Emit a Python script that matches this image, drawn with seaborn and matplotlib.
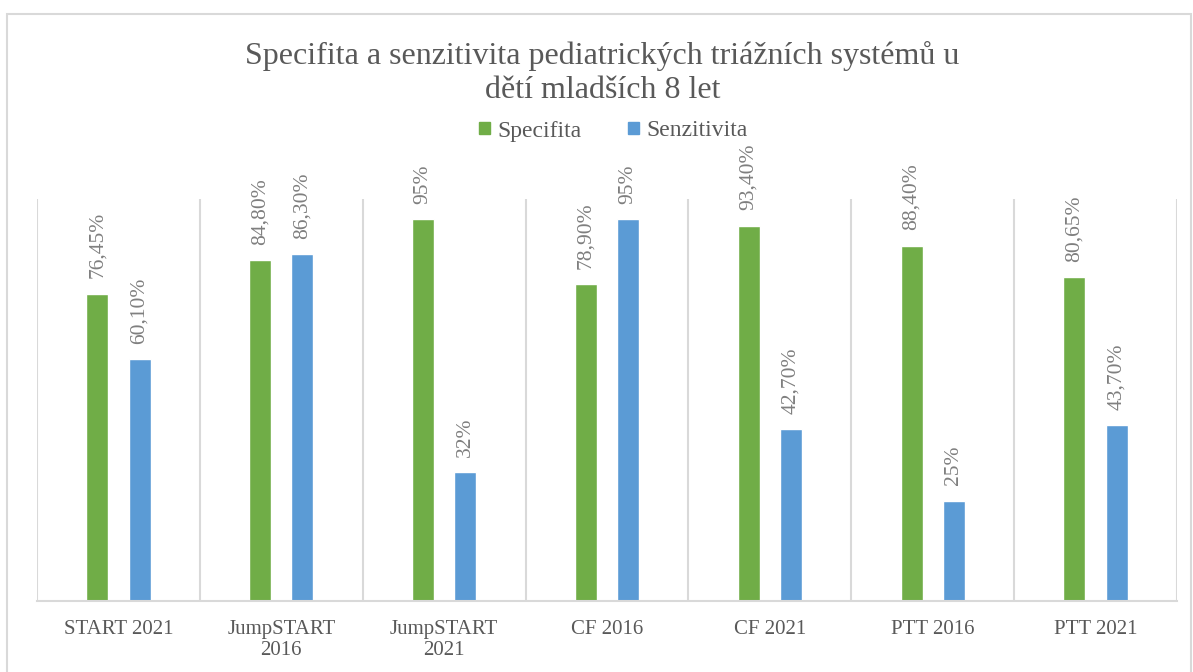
import numpy as np
import pandas as pd
import seaborn as sns
import matplotlib.pyplot as plt
import matplotlib.ticker as ticker
from matplotlib.patches import Rectangle

##### Data

systems = ['START 2021', 'JumpSTART\n2016', 'JumpSTART\n2021', 'CF 2016',
           'CF 2021', 'PTT 2016', 'PTT 2021']
specifita = [76.45, 84.80, 95, 78.90, 93.40, 88.40, 80.65]
senzitivita = [60.10, 86.30, 32, 95, 42.70, 25, 43.70]
spec_labels = ['76,45%', '84,80%', '95%', '78,90%', '93,40%', '88,40%', '80,65%']
senz_labels = ['60,10%', '86,30%', '32%', '95%', '42,70%', '25%', '43,70%']

df = pd.DataFrame({'System': systems * 2,
                   'Hodnota': specifita + senzitivita,
                   'Typ': ['Specifita'] * 7 + ['Senzitivita'] * 7})

##### Plot

sns.set_style('white')
plt.rcParams['font.family'] = ['Liberation Serif', 'DejaVu Serif']
txt = '#595959'

fig = plt.figure(figsize=(11.93, 6.72), dpi=100)
ax = fig.add_axes([37 / 1193, 1 - 601 / 672, 1140 / 1193, 402 / 672])

sns.barplot(data=df, x='System', y='Hodnota', hue='Typ', ax=ax,
            palette=['#70AD47', '#5B9BD5'], width=0.52, gap=0.48,
            saturation=1, legend=False)

ax.set_ylim(0, 100)
ax.set_xlim(-0.5, 6.5)
ax.set_xlabel('')
ax.set_ylabel('')
ax.set_yticks([])

# category separators
ax.xaxis.set_minor_locator(ticker.FixedLocator(np.arange(-0.5, 7, 1)))
ax.grid(which='minor', axis='x', color='#D9D9D9', linewidth=1.5)
ax.tick_params(axis='x', which='both', length=0, pad=14)
for lab in ax.get_xticklabels():
    lab.set_fontsize(15)
    lab.set_color(txt)
    lab.set_linespacing(1.1)

for s in ['top', 'right', 'left']:
    ax.spines[s].set_visible(False)
ax.spines['bottom'].set_color('#D9D9D9')
ax.spines['bottom'].set_linewidth(1.5)

# data labels
for cont, labs in zip(ax.containers, [spec_labels, senz_labels]):
    ax.bar_label(cont, labels=labs, rotation=90, padding=11,
                 fontsize=15.5, color='#7F7F7F')

# title
fig.text(0.505, 1 - 56 / 672, 'Specifita a senzitivita pediatrických triážních systémů u',
         ha='center', va='center', fontsize=23, color=txt)
fig.text(0.505, 1 - 91 / 672, 'dětí mladších 8 let',
         ha='center', va='center', fontsize=23, color=txt)

# legend
handles = [Rectangle((0, 0), 1, 1, color='#70AD47'),
           Rectangle((0, 0), 1, 1, color='#5B9BD5')]
fig.legend(handles, ['Specifita', 'Senzitivita'], loc='center',
           bbox_to_anchor=(0.514, 1 - 131 / 672), ncol=2, frameon=False,
           fontsize=17, labelcolor=txt, handlelength=0.45, handleheight=0.45,
           handletextpad=0.3, columnspacing=2.0)

# chart border
fig.patches.append(Rectangle((7 / 1193, -0.01), 1184 / 1193, 1 - 14 / 672 + 0.01,
                             transform=fig.transFigure, fill=False,
                             edgecolor='#D9D9D9', linewidth=1.5))

plt.savefig('out.png', dpi=100)
